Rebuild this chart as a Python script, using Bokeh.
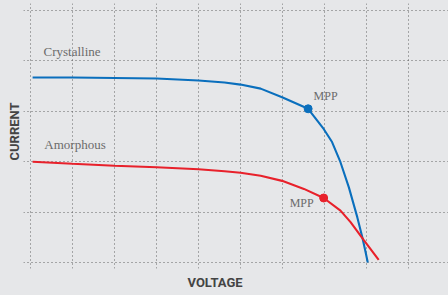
from bokeh.plotting import figure
from bokeh.models import Label, FixedTicker, Range1d, Title
from bokeh.embed import file_html
from bokeh.resources import INLINE

# Data (voltage and current in grid units)
cryst_v = [0.05, 1.0, 2.0, 3.0, 4.0, 4.62, 5.0, 5.48, 5.99, 6.61, 6.98, 7.18, 7.38, 7.58, 7.78, 7.90, 7.98, 8.03]
cryst_i = [3.67, 3.67, 3.66, 3.65, 3.61, 3.57, 3.53, 3.45, 3.28, 3.05, 2.65, 2.39, 1.99, 1.49, 0.90, 0.50, 0.20, 0.00]
amor_v = [0.05, 1.0, 2.0, 3.0, 4.0, 4.62, 5.0, 5.48, 5.99, 6.51, 6.98, 7.38, 7.62, 7.94, 8.29]
amor_i = [2.00, 1.96, 1.92, 1.89, 1.85, 1.81, 1.78, 1.72, 1.62, 1.46, 1.28, 1.03, 0.80, 0.44, 0.05]
mpp_v = [6.61, 6.98]
mpp_i = [3.05, 1.28]
v_ticks = [0, 1, 2, 3, 4, 5, 6, 7, 8, 9]
i_ticks = [0, 1, 2, 3, 4, 5]

BG = "#e6e7e9"
BLUE = "#0a6fbd"
RED = "#e8212b"

p = figure(width=448, height=295, output_backend="svg", toolbar_location=None,
           x_range=Range1d(-0.1667, 9.952), y_range=Range1d(-0.119, 5.139),
           min_border_left=23, min_border_right=0, min_border_top=3, min_border_bottom=27)
p.background_fill_color = BG
p.border_fill_color = BG
p.outline_line_color = None
p.xaxis.visible = False
p.yaxis.visible = False

p.xgrid.ticker = FixedTicker(ticks=v_ticks)
p.ygrid.ticker = FixedTicker(ticks=i_ticks)
for g in (p.xgrid, p.ygrid):
    g.grid_line_color = "#555555"
    g.grid_line_dash = "1 3"
    g.grid_line_width = 1
    g.grid_line_alpha = 0.9

p.line(cryst_v, cryst_i, line_color=BLUE, line_width=2.1)
p.line(amor_v, amor_i, line_color=RED, line_width=2.1)
p.scatter(mpp_v[:1], mpp_i[:1], size=8, color=BLUE)
p.scatter(mpp_v[1:], mpp_i[1:], size=8, color=RED)

serif = dict(text_font="Liberation Serif", text_color="#6b6b6b", text_baseline="alphabetic")
p.add_layout(Label(x=0.31, y=4.19, text="Crystalline", text_font_size="13px", **serif))
p.add_layout(Label(x=0.33, y=2.34, text="Amorphous", text_font_size="13px", **serif))
p.add_layout(Label(x=6.74, y=3.30, text="MPP", text_font_size="12px", **serif))
p.add_layout(Label(x=6.17, y=1.18, text="MPP", text_font_size="12px", **serif))

tstyle = dict(text_font="Roboto", text_font_style="bold", text_color="#444444",
              text_font_size="13px")
p.add_layout(Title(text="VOLTAGE", align="left", offset=164, standoff=8, **tstyle), "below")
p.add_layout(Title(text="CURRENT", align="left", offset=108, standoff=4, **tstyle), "left")

html = file_html(p, INLINE)
html = html.replace("</head>", "<style>html,body{background:%s;}</style></head>" % BG)
open("out.html", "w").write(html)
